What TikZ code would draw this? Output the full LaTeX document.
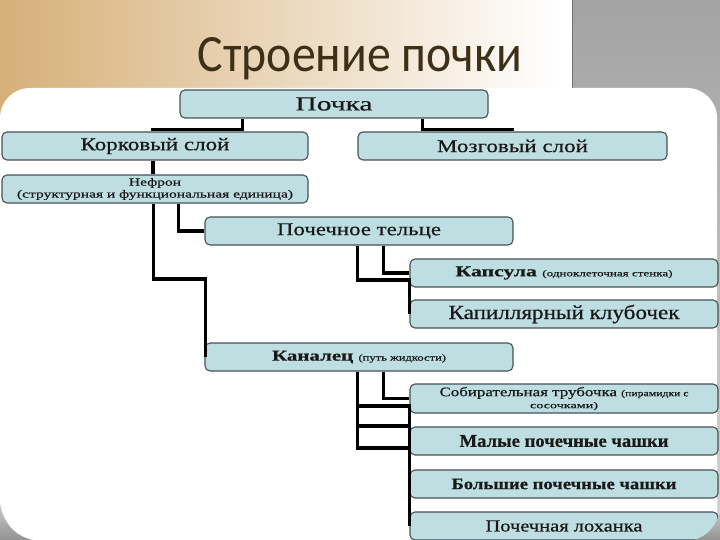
\documentclass[tikz,border=0pt]{standalone}
\usepackage{fontspec}
\setmainfont{Liberation Serif}[FakeBold=0.5]
\newfontfamily\titlefont{Carlito}
\usetikzlibrary{calc}
\definecolor{boxfill}{RGB}{190,222,226}
\definecolor{boxline}{RGB}{70,82,84}
\definecolor{tanbg}{RGB}{214,176,120}
\definecolor{titlecol}{RGB}{62,48,24}
\definecolor{txt}{RGB}{25,25,25}
\newcommand\fitw[2]{\resizebox{#1pt}{\height}{#2}}
\tikzset{
 box/.style={draw=boxline, line width=1.1pt, fill=boxfill, rounded corners=5pt,
   inner sep=0pt, minimum height=28pt, minimum width=308pt, text=txt,
   align=center, font=\fontsize{18}{20}\selectfont},
 link/.style={line width=3.2pt, draw=black},
}
\begin{document}
\begin{tikzpicture}[x=1pt,y=-1pt]
\useasboundingbox (0,0) rectangle (720,540);
% background
\shade[left color=tanbg, right color=white] (0,0) rectangle (560,140);
\fill[white] (560,0) rectangle (572,140);
\shade[top color=gray!72, bottom color=gray!35] (572,0) rectangle (720,540);
\draw[black!55, line width=1pt] (572.5,0) -- (572.5,140);
\fill[white, rounded corners=30pt] (0,570) -- (0,88) -- (717,88) -- (717,570) -- cycle;
% title
\node[text=titlecol, font=\titlefont\fontsize{50}{50}\selectfont, anchor=base, inner sep=0pt]
  (title) at (360,72) {\resizebox{324pt}{34pt}{Строение почки}};
% boxes
\node[box] (pochka) at (334,104) {\fitw{77}{\fontsize{20}{22}\selectfont Почка}};
\node[box, minimum width=306pt] (kork) at (155,146) {\fitw{149}{Корковый слой}};
\node[box, minimum width=309pt] (mozg) at (512.5,146) {\fitw{151}{Мозговый слой}};
\node[box, minimum width=306pt, font=\fontsize{11}{12}\selectfont] (nefron) at (155,189)
  {\fitw{52}{Нефрон}\\\fitw{276}{(структурная и функциональная единица)}};
\node[box] (telce) at (359,231) {\fitw{164}{Почечное тельце}};
\node[box] (kaps) at (564,273) {\fitw{217}{\fontsize{15}{17}\selectfont\bfseries Капсула
  {\fontsize{9}{10}\selectfont\mdseries (одноклеточная стенка)}}};
\node[box] (kapil) at (564,314) {\fitw{231}{\fontsize{20}{22}\selectfont Капиллярный клубочек}};
\node[box] (kanal) at (359,357) {\fitw{174}{\fontsize{15}{17}\selectfont\bfseries Каналец
  {\fontsize{9}{10}\selectfont\mdseries (путь жидкости)}}};
\node[box, minimum height=29pt, font=\fontsize{13}{12}\selectfont] (sobir) at (564,398.5)
  {\fitw{249}{Собирательная трубочка {\fontsize{9}{10}\selectfont (пирамидки с}}\\
   \fitw{68}{\fontsize{9}{10}\selectfont сосочками)}};
\node[box] (malye) at (564,441) {\fitw{209}{\bfseries Малые почечные чашки}};
\node[box] (bolsh) at (564,484) {\fitw{225}{\fontsize{16}{18}\selectfont\bfseries Большие почечные чашки}};
\node[box] (lokh) at (564,526) {\fitw{157}{\fontsize{17}{19}\selectfont Почечная лоханка}};
% connectors
\draw[link] ($(pochka.south west)+(63,0)$) |- ($(kork.north)+(-2,-2)$) -- ++(0,2);
\draw[link] ($(pochka.south west)+(243,0)$) |- ($(mozg.north)+(0,-2)$) -- (mozg.north);
\draw[link] ($(kork.south)+(-2,0)$) -- ($(nefron.north)+(-2,0)$);
\draw[link] ($(nefron.south west)+(177,0)$) |- (telce.west);
\draw[link] ($(nefron.south west)+(152,0)$) |- ($(telce.west)+(1,48)$) -- ($(kanal.west)+(1,0)$);
\draw[link] ($(telce.south west)+(179,0)$) |- (kaps.west);
\draw[link] ($(telce.south west)+(153,0)$) |- ($(kaps.west)+(0,7)$) -- (kapil.west);
\draw[link] ($(kanal.south west)+(179,0)$) |- (sobir.west);
\draw[link] ($(kanal.south west)+(153,0)$) |- ($(sobir.west)+(0,7.5)$) -- (malye.west);
\draw[link] ($(kanal.south west)+(153,0)$) |- ($(sobir.west)+(0,27.5)$) -- (bolsh.west);
\draw[link] ($(kanal.south west)+(153,0)$) |- ($(sobir.west)+(0,49.5)$) -- (lokh.west);
% page corners
\shade[top color=gray!40, bottom color=gray!85]
  (0,503) .. controls (3,522) and (14,536) .. (33,540) -- (0,540) -- cycle;
\shade[top color=gray!45, bottom color=gray!85]
  (720,512) .. controls (716,526) and (708,536) .. (694,540) -- (720,540) -- cycle;
\end{tikzpicture}
\end{document}
